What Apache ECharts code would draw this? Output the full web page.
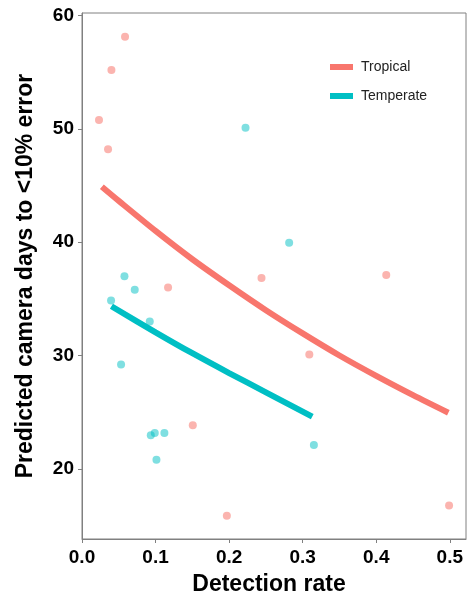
<!DOCTYPE html>
<html><head><meta charset="utf-8">
<script src="https://cdn.jsdelivr.net/npm/echarts@6/dist/echarts.min.js"></script>
<style>html,body{margin:0;padding:0;background:#fff}#c{width:473px;height:592px}</style>
</head><body><div id="c"></div>
<script>
// Observed points
const tropicalX = [0.0231, 0.0354, 0.040, 0.0585, 0.117, 0.1506, 0.1969, 0.244, 0.309, 0.4136, 0.499];
const tropicalY = [50.8, 48.2, 55.2, 58.15, 36.0, 23.85, 15.85, 36.85, 30.1, 37.1, 16.75];
const temperateX = [0.0395, 0.0531, 0.0577, 0.0717, 0.0921, 0.0935, 0.0989, 0.1012, 0.112, 0.2223, 0.2816, 0.3152];
const temperateY = [34.85, 29.2, 37.0, 35.8, 33.0, 22.95, 23.15, 20.8, 23.15, 50.1, 39.95, 22.1];
// Fitted curves
const tropicalFitX = [0.027, 0.05, 0.10, 0.15, 0.20, 0.25, 0.30, 0.35, 0.40, 0.45, 0.498];
const tropicalFitY = [44.9, 43.65, 41.0, 38.5, 36.2, 34.0, 31.95, 30.0, 28.2, 26.5, 24.95];
const temperateFitX = [0.04, 0.10, 0.15, 0.20, 0.25, 0.313];
const temperateFitY = [34.35, 32.05, 30.2, 28.45, 26.75, 24.6];
// Ticks
const xTicks = [0, 0.1, 0.2, 0.3, 0.4, 0.5];
const yTicks = [20, 30, 40, 50, 60];

const colTrop = '#F8766D', colTemp = '#00BFC4';
const zip = (a, b) => a.map((v, i) => [v, b[i]]);
const font = '"Liberation Sans", Arial, sans-serif';

const chart = echarts.init(document.getElementById('c'));
chart.setOption({
  animation: false,
  textStyle: { fontFamily: font },
  grid: { left: 82, right: 7, top: 13, bottom: 53, show: true, borderColor: '#808080', borderWidth: 1,
    containLabel: false, outerBoundsMode: 'none' },
  legend: {
    orient: 'vertical', left: 325, top: 55, itemWidth: 23, itemHeight: 6, itemGap: 15,
    textStyle: { fontSize: 14, color: '#222', fontFamily: font, padding: [0, 0, 0, 3] },
    data: [
      { name: 'Tropical', icon: 'rect', itemStyle: { color: colTrop } },
      { name: 'Temperate', icon: 'rect', itemStyle: { color: colTemp } }
    ]
  },
  xAxis: {
    type: 'value', min: 0, max: 0.522,
    name: 'Detection rate', nameLocation: 'middle', nameGap: 34,
    nameTextStyle: { fontSize: 23, fontWeight: 'bold', color: '#000', fontFamily: font, padding: [0, 10, 0, 0] },
    splitLine: { show: false },
    axisLine: { show: true, lineStyle: { color: '#808080', width: 1 } },
    axisTick: { show: true, length: 4, lineStyle: { color: '#808080' }, customValues: xTicks },
    axisLabel: { customValues: xTicks, fontSize: 19, fontWeight: 'bold', color: '#000', margin: 9,
      formatter: v => v.toFixed(1) }
  },
  yAxis: {
    type: 'value', min: 13.8, max: 60.24,
    name: 'Predicted camera days to <10% error', nameLocation: 'middle', nameGap: 45, nameRotate: 90,
    nameTextStyle: { fontSize: 23, fontWeight: 'bold', color: '#000', fontFamily: font },
    splitLine: { show: false },
    axisLine: { show: true, lineStyle: { color: '#808080', width: 1 } },
    axisTick: { show: true, length: 4, lineStyle: { color: '#808080' }, customValues: yTicks },
    axisLabel: { customValues: yTicks, fontSize: 19, fontWeight: 'bold', color: '#000', margin: 8 }
  },
  series: [
    { type: 'scatter', name: 'TropicalPts', data: zip(tropicalX, tropicalY), symbolSize: 8,
      itemStyle: { color: colTrop, opacity: 0.55 }, z: 2 },
    { type: 'scatter', name: 'TemperatePts', data: zip(temperateX, temperateY), symbolSize: 8,
      itemStyle: { color: colTemp, opacity: 0.5 }, z: 2 },
    { type: 'line', name: 'Tropical', data: zip(tropicalFitX, tropicalFitY), smooth: 0.3, showSymbol: false,
      lineStyle: { color: colTrop, width: 6, cap: 'butt' }, itemStyle: { color: colTrop }, z: 3 },
    { type: 'line', name: 'Temperate', data: zip(temperateFitX, temperateFitY), smooth: 0.3, showSymbol: false,
      lineStyle: { color: colTemp, width: 6, cap: 'butt' }, itemStyle: { color: colTemp }, z: 3 }
  ]
});
</script></body></html>
